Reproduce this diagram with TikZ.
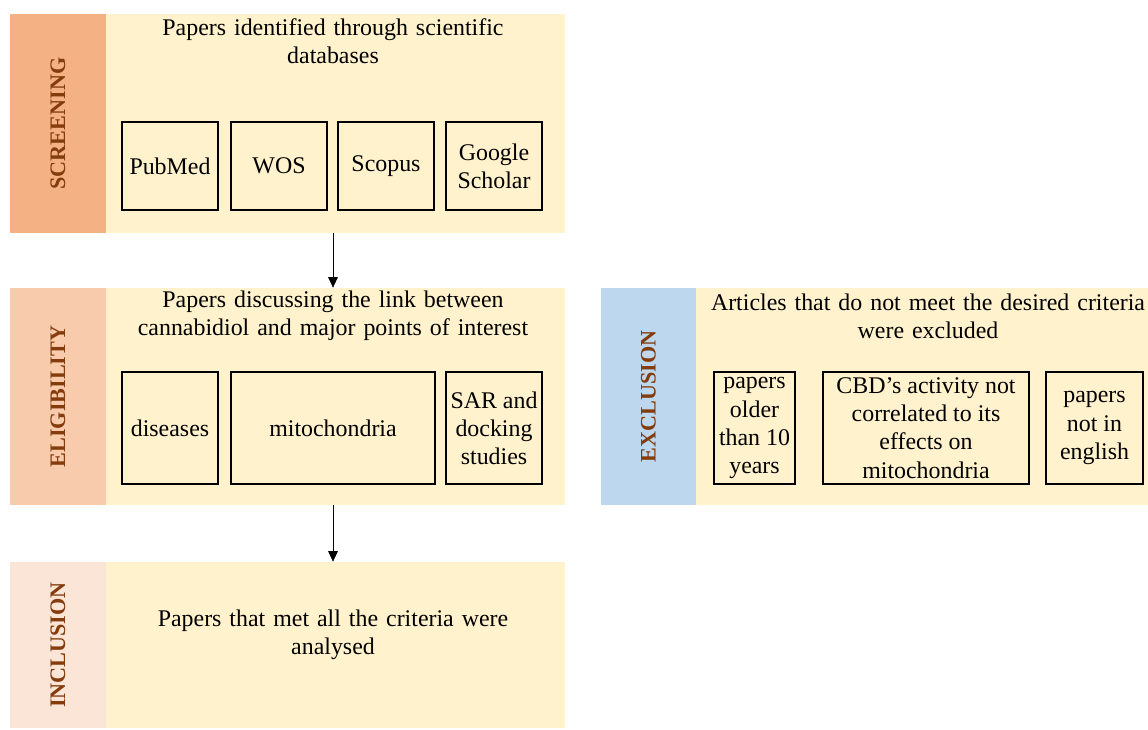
\documentclass[tikz,border=0pt]{standalone}
\usepackage{fontspec}
\setmainfont{Liberation Serif}
\usetikzlibrary{arrows.meta}
\definecolor{panelyellow}{HTML}{FFF2CC}
\definecolor{screenorange}{HTML}{F4B183}
\definecolor{eligpeach}{HTML}{F8CBAD}
\definecolor{inclpink}{HTML}{FBE5D6}
\definecolor{exclblue}{HTML}{BDD7EE}
\definecolor{labelbrown}{HTML}{843C0C}
\tikzset{
  stagebar/.style = {rectangle, inner sep = 0pt, minimum width = 1.92cm},
  stagelabel/.style = {rotate = 90, font = \fontsize{12.6}{16}\selectfont\bfseries, text = labelbrown},
  panel/.style = {rectangle, fill = panelyellow, inner sep = 0pt},
  paneltext/.style = {align = center, text width = 9cm, font = \fontsize{13.6}{16}\selectfont},
  itembox/.style = {rectangle, draw = black, line width = 1.1pt, fill = panelyellow, inner sep = 1pt, align = center, font = \fontsize{13.6}{16}\selectfont},
  flow/.style = {-{Triangle[width = 5.5pt, length = 6pt]}, thin}
}
\begin{document}
\begin{tikzpicture}
\useasboundingbox (0,0) rectangle (22.96,-14.58);
% screening
\draw (1.16,-2.47) node[stagebar, fill = screenorange, minimum height = 4.38cm, name = scrbar]{};
\draw (scrbar) node[stagelabel, name = scrlabel]{SCREENING};
\draw (6.71,-2.47) node[panel, minimum width = 9.18cm, minimum height = 4.38cm, name = scrpanel]{};
\draw (6.66,-0.83) node[paneltext, name = scrtitle]{Papers identified through scientific\\databases};
\draw (3.40,-3.32) node[itembox, minimum width = 1.92cm, minimum height = 1.76cm, name = pubmed]{PubMed};
\draw (pubmed) + (2.18,0) node[itembox, minimum width = 1.92cm, minimum height = 1.76cm, name = wos]{WOS};
\draw (wos) + (2.14,0) node[itembox, minimum width = 1.92cm, minimum height = 1.76cm, name = scopus]{Scopus};
\draw (scopus) + (2.16,0) node[itembox, minimum width = 1.92cm, minimum height = 1.76cm, name = scholar]{Google\\Scholar};
% eligibility
\draw (1.16,-7.93) node[stagebar, fill = eligpeach, minimum height = 4.34cm, name = elgbar]{};
\draw (elgbar) node[stagelabel, name = elglabel]{ELIGIBILITY};
\draw (6.71,-7.93) node[panel, minimum width = 9.18cm, minimum height = 4.34cm, name = elgpanel]{};
\draw (6.66,-6.32) node[paneltext, name = elgtitle]{Papers discussing the link between\\cannabidiol and major points of interest};
\draw (3.40,-8.56) node[itembox, minimum width = 1.92cm, minimum height = 2.24cm, name = diseases]{diseases};
\draw (diseases) + (3.26,0) node[itembox, minimum width = 4.08cm, minimum height = 2.24cm, name = mito]{mitochondria};
\draw (mito) + (3.22,0) node[itembox, minimum width = 1.92cm, minimum height = 2.24cm, name = sar]{SAR and\\docking\\studies};
% inclusion
\draw (1.16,-12.90) node[stagebar, fill = inclpink, minimum height = 3.32cm, name = incbar]{};
\draw (incbar) node[stagelabel, name = inclabel]{INCLUSION};
\draw (6.71,-12.90) node[panel, minimum width = 9.18cm, minimum height = 3.32cm, name = incpanel]{};
\draw (6.66,-12.70) node[paneltext, name = inctitle]{Papers that met all the criteria were\\analysed};
% exclusion
\draw (12.97,-7.93) node[stagebar, fill = exclblue, minimum width = 1.90cm, minimum height = 4.34cm, name = excbar]{};
\draw (excbar) node[stagelabel, name = exclabel]{EXCLUSION};
\draw (18.44,-7.93) node[panel, minimum width = 9.04cm, minimum height = 4.34cm, name = excpanel]{};
\draw (18.56,-6.32) node[paneltext, name = exctitle]{Articles that do not meet the desired criteria\\were excluded};
\draw (15.09,-8.56) node[itembox, minimum width = 1.62cm, minimum height = 2.24cm, name = older]{papers\\older\\than 10\\years};
\draw (older) + (3.43,0) node[itembox, minimum width = 4.12cm, minimum height = 2.24cm, name = cbd]{CBD’s activity not\\correlated to its\\effects on\\mitochondria};
\draw (cbd) + (3.37,0) node[itembox, minimum width = 1.94cm, minimum height = 2.24cm, name = english]{papers\\not in\\english};
% flow arrows
\draw[flow] (scrpanel.south -| mito) -- (elgpanel.north -| mito);
\draw[flow] (elgpanel.south -| mito) -- (incpanel.north -| mito);
\end{tikzpicture}
\end{document}
